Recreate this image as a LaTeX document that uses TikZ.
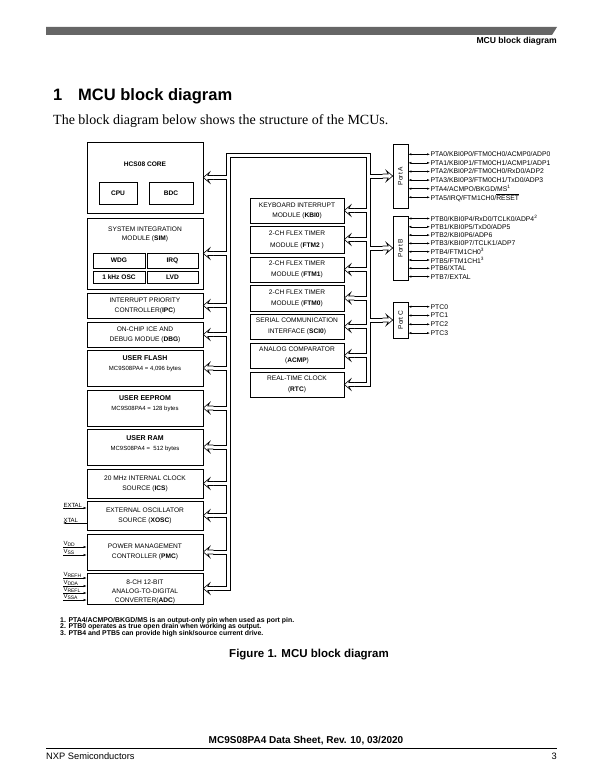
\documentclass[tikz,border=0pt]{standalone}
\usepackage{fontspec}
\setmainfont{Liberation Sans}
\newfontfamily\timesfont{Liberation Serif}
\usetikzlibrary{arrows.meta,calc}

\definecolor{barcol}{HTML}{666666}

\tikzset{
  blk/.style={draw, line width=0.6pt, align=center, inner sep=0pt, font=\fontsize{6.6}{10}\selectfont},
  txt/.style={align=center, inner sep=0pt, font=\fontsize{6.6}{10}\selectfont},
  pipe/.style={line width=0.6pt},
  pinlbl/.style={anchor=west, inner sep=0.5pt, font=\fontsize{6.8}{7}\selectfont},
  pinarr/.style={{Latex[length=3pt,width=2.2pt]}-{Latex[length=3pt,width=2.2pt]}, line width=0.5pt},
  sigarr/.style={-{Latex[length=3pt,width=2.2pt]}, line width=0.5pt},
  sig/.style={anchor=south west, inner sep=0.3pt, font=\fontsize{6}{7}\selectfont},
  pics/head/.style={code={
    \draw[fill=white, line width=0.6pt] (10,-2) -- (4.5,-2) -- (6.5,-5.5) -- (0,0) -- (6.5,5.5) -- (4.5,2) -- (10,2);
  }},
}

\begin{document}
\begin{tikzpicture}[x=1pt,y=-1pt]
\useasboundingbox (0,0) rectangle (612,778);

\fill[barcol] (46,27) -- (557,27) -- (552,35) -- (46,35) -- cycle;
\node[anchor=base east, inner sep=0pt, font=\fontsize{8.6}{10}\selectfont\bfseries] (hdr) at (557,43.5) {MCU block diagram};
\node[anchor=base west, inner sep=0pt, font=\fontsize{16.5}{18}\selectfont\bfseries] (secno) at (53,101) {1};
\node[anchor=base west, inner sep=0pt, font=\fontsize{16.5}{18}\selectfont\bfseries] (title) at (78,101) {MCU block diagram};
\node[anchor=base west, inner sep=0pt, font=\timesfont\fontsize{14}{16}\selectfont] (intro) at (53,125) {The block diagram below shows the structure of the MCUs.};

% left column
\node[blk, minimum width=116, minimum height=71] (hcs) at (145,177.5) {};
\node[txt, font=\fontsize{6.6}{9}\selectfont\bfseries] (hcst) at (145,164) {HCS08 CORE};
\node[blk, minimum width=38, minimum height=22, font=\fontsize{6.6}{9}\selectfont\bfseries] (cpu) at (118,193) {CPU};
\node[blk, minimum width=44, minimum height=22, font=\fontsize{6.6}{9}\selectfont\bfseries] (bdc) at (171,193) {BDC};

\node[blk, minimum width=116, minimum height=71] (sim) at (145,253.5) {};
\node[txt, font=\fontsize{6.6}{9}\selectfont] (simt) at (145,234.5) {SYSTEM INTEGRATION\\MODULE (\textbf{SIM})};
\node[blk, minimum width=52, minimum height=15, font=\fontsize{6.6}{9}\selectfont\bfseries] (wdg) at (119,260.5) {WDG};
\node[blk, minimum width=51, minimum height=15, font=\fontsize{6.6}{9}\selectfont\bfseries] (irq) at (172.5,260.5) {IRQ};
\node[blk, minimum width=52, minimum height=12, font=\fontsize{6.6}{9}\selectfont\bfseries] (osc) at (119,277) {1 kHz OSC};
\node[blk, minimum width=51, minimum height=12, font=\fontsize{6.6}{9}\selectfont\bfseries] (lvd) at (172.5,277) {LVD};

\node[blk, minimum width=116, minimum height=25] (ipc) at (145,305.5) {INTERRUPT PRIORITY\\CONTROLLER(\textbf{IPC})};
\node[blk, minimum width=116, minimum height=25] (dbg) at (145,334.5) {ON-CHIP ICE AND\\DEBUG MODUE (\textbf{DBG})};

\node[blk, minimum width=116, minimum height=36] (flash) at (145,368) {};
\node[txt] (flasht) at (145,364) {\fontsize{7}{10}\selectfont\textbf{USER FLASH}\\\fontsize{6}{7}\selectfont MC9S08PA4 = 4,096 bytes};
\node[blk, minimum width=116, minimum height=36] (eeprom) at (145,408) {};
\node[txt] (eepromt) at (145,403.5) {\fontsize{7}{10}\selectfont\textbf{USER EEPROM}\\\fontsize{6}{7}\selectfont MC9S08PA4 = 128 bytes};
\node[blk, minimum width=116, minimum height=36] (ram) at (145,447) {};
\node[txt] (ramt) at (145,444) {\fontsize{7}{10}\selectfont\textbf{USER RAM}\\\fontsize{6}{7}\selectfont MC9S08PA4 =\ \ 512 bytes};

\node[blk, minimum width=116, minimum height=29] (ics) at (145,483.5) {20 MHz INTERNAL CLOCK\\SOURCE (\textbf{ICS})};
\node[blk, minimum width=116, minimum height=29] (xosc) at (145,515.5) {EXTERNAL OSCILLATOR\\SOURCE (\textbf{XOSC})};
\node[blk, minimum width=116, minimum height=36] (pmc) at (145,552) {POWER MANAGEMENT\\CONTROLLER (\textbf{PMC})};
\node[blk, minimum width=116, minimum height=31] (adc) at (145,588.5) {};
\node[txt, font=\fontsize{6.6}{9}\selectfont] (adct) at (145,591.5) {8-CH 12-BIT\\ANALOG-TO-DIGITAL\\CONVERTER(\textbf{ADC})};

% peripherals
\node[blk, minimum width=94, minimum height=25] (kbi) at (297,210.5) {KEYBOARD INTERRUPT\\MODULE (\textbf{KBI0})};
\node[blk, minimum width=94, minimum height=27, font=\fontsize{6.6}{12}\selectfont] (ftm2) at (297,239.5) {2-CH FLEX TIMER\\MODULE (\textbf{FTM2} )};
\node[blk, minimum width=94, minimum height=25, font=\fontsize{6.6}{11}\selectfont] (ftm1) at (297,269.5) {2-CH FLEX TIMER\\MODULE (\textbf{FTM1})};
\node[blk, minimum width=94, minimum height=26, font=\fontsize{6.6}{11}\selectfont] (ftm0) at (297,298) {2-CH FLEX TIMER\\MODULE (\textbf{FTM0})};
\node[blk, minimum width=94, minimum height=25, font=\fontsize{6.6}{11}\selectfont] (sci) at (297,326.5) {SERIAL COMMUNICATION\\INTERFACE (\textbf{SCI0})};
\node[blk, minimum width=94, minimum height=25, font=\fontsize{6.6}{11}\selectfont] (acmp) at (297,355.5) {ANALOG COMPARATOR\\(\textbf{ACMP})};
\node[blk, minimum width=94, minimum height=25, font=\fontsize{6.6}{11}\selectfont] (rtc) at (297,384.5) {REAL-TIME CLOCK\\(\textbf{RTC})};

% ports
\node[blk, minimum width=15, minimum height=64] (porta) at (400.5,176) {};
\node[txt, rotate=90] (portat) at (porta.center) {Port A};
\node[blk, minimum width=15, minimum height=64] (portb) at (400.5,248) {};
\node[txt, rotate=90] (portbt) at (portb.center) {Port B};
\node[blk, minimum width=15, minimum height=36] (portc) at (400.5,320) {};
\node[txt, rotate=90] (portct) at (portc.center) {Port C};

% bus outlines
\coordinate (tlo) at (226,153);
\coordinate (tli) at (230,157);
\coordinate (tri) at (366,157);
\coordinate (tro) at (370,153);
\draw[pipe] ($(hcs.east)+(10,-2)$) -- ($(hcs.east -| tlo)+(0,-2)$) -- (tlo) -- (tro)
  -- ($(porta.west -| tro)+(0,-2)$) -- ($(porta.west)+(-10,-2)$);
\draw[pipe] ($(adc.east)+(10,2)$) -- ($(adc.east -| tli)+(0,2)$) -- (tli) -- (tri)
  -- ($(kbi.east -| tri)+(0,-2)$) -- ($(kbi.east)+(10,-2)$);
\foreach \a/\b in {hcs/sim, sim/ipc, ipc/dbg, dbg/flash, flash/eeprom, eeprom/ram, ram/ics, ics/xosc, xosc/pmc, pmc/adc}
  \draw[pipe] ($(\a.east)+(10,2)$) -- ($(\a.east -| tlo)+(0,2)$) -- ($(\b.east -| tlo)+(0,-2)$) -- ($(\b.east)+(10,-2)$);
\foreach \a/\b in {kbi/ftm2, ftm2/ftm1, ftm1/ftm0, ftm0/sci, sci/acmp, acmp/rtc}
  \draw[pipe] ($(\a.east)+(10,2)$) -- ($(\a.east -| tri)+(0,2)$) -- ($(\b.east -| tri)+(0,-2)$) -- ($(\b.east)+(10,-2)$);
\foreach \a/\b in {porta/portb, portb/portc}
  \draw[pipe] ($(\a.west)+(-10,2)$) -- ($(\a.west -| tro)+(0,2)$) -- ($(\b.west -| tro)+(0,-2)$) -- ($(\b.west)+(-10,-2)$);
\draw[pipe] ($(portc.west)+(-10,2)$) -- ($(portc.west -| tro)+(0,2)$) -- ($(rtc.east -| tro)+(0,2)$) -- ($(rtc.east)+(10,2)$);
\foreach \m in {hcs,sim,ipc,dbg,flash,eeprom,ram,ics,xosc,pmc,adc,kbi,ftm2,ftm1,ftm0,sci,acmp,rtc}
  \pic at (\m.east) {head};
\foreach \m in {porta,portb,portc}
  \pic[xscale=-1] at (\m.west) {head};

% pins
\foreach \t [count=\i from 0] in {PTA0/KBI0P0/FTM0CH0/ACMP0/ADP0, PTA1/KBI0P1/FTM0CH1/ACMP1/ADP1,
    PTA2/KBI0P2/FTM0CH0/RxD0/ADP2, PTA3/KBI0P3/FTM0CH1/TxD0/ADP3, PTA4/ACMPO/BKGD/MS\textsuperscript{1},
    PTA5/IRQ/FTM1CH0/\(\overline{\mbox{RESET}}\)} {
  \node[pinlbl] (pa\i) at (430,154.3+8.6*\i) {\t};
  \draw[pinarr] (porta.east |- pa\i.west) -- (pa\i.west);
}
\foreach \t [count=\i from 0] in {PTB0/KBI0P4/RxD0/TCLK0/ADP4\textsuperscript{2}, PTB1/KBI0P5/TxD0/ADP5,
    PTB2/KBI0P6/ADP6, PTB3/KBI0P7/TCLK1/ADP7, PTB4/FTM1CH0\textsuperscript{3}, PTB5/FTM1CH1\textsuperscript{3},
    PTB6/XTAL, PTB7/EXTAL} {
  \node[pinlbl] (pb\i) at (430,218.5+8.3*\i) {\t};
  \draw[pinarr] (portb.east |- pb\i.west) -- (pb\i.west);
}
\foreach \t [count=\i from 0] in {PTC0, PTC1, PTC2, PTC3} {
  \node[pinlbl] (pc\i) at (430,306.7+8.8*\i) {\t};
  \draw[pinarr] (portc.east |- pc\i.west) -- (pc\i.west);
}

% left signals
\node[sig] (extal) at (63,508) {EXTAL};
\draw[sigarr] (extal.south west) -- (extal.south west -| xosc.west);
\node[sig] (xtal) at (63,523) {XTAL};
\draw[sigarr] (xtal.south west -| xosc.west) -- (xtal.south west);
\node[sig] (vdd) at (63,547) {V\textsubscript{DD}};
\draw[sigarr] (vdd.south west) -- (vdd.south west -| pmc.west);
\node[sig] (vss) at (63,555) {V\textsubscript{SS}};
\draw[sigarr] (vss.south west) -- (vss.south west -| pmc.west);
\node[sig] (vrefh) at (63,578) {V\textsubscript{REFH}};
\draw[sigarr] (vrefh.south west) -- (vrefh.south west -| adc.west);
\node[sig] (vdda) at (63,586) {V\textsubscript{DDA}};
\draw[sigarr] (vdda.south west) -- (vdda.south west -| adc.west);
\node[sig] (vrefl) at (63,593) {V\textsubscript{REFL}};
\draw[sigarr] (vrefl.south west) -- (vrefl.south west -| adc.west);
\node[sig] (vssa) at (63,600) {V\textsubscript{SSA}};
\draw[sigarr] (vssa.south west) -- (vssa.south west -| adc.west);

% notes and footer
\node[anchor=base west, inner sep=0pt, font=\fontsize{6.9}{7}\selectfont\bfseries] (note1) at (60,622) {1. PTA4/ACMPO/BKGD/MS is an output-only pin when used as port pin.};
\node[anchor=base west, inner sep=0pt, font=\fontsize{6.9}{7}\selectfont\bfseries] (note2) at (60,628.5) {2. PTB0 operates as true open drain when working as output.};
\node[anchor=base west, inner sep=0pt, font=\fontsize{6.9}{7}\selectfont\bfseries] (note3) at (60,635) {3. PTB4 and PTB5 can provide high sink/source current drive.};
\node[anchor=base, inner sep=0pt, font=\fontsize{11.5}{13}\selectfont\bfseries] (caption) at (309,657) {Figure 1. MCU block diagram};
\node[anchor=base, inner sep=0pt, font=\fontsize{10}{12}\selectfont\bfseries] (ftr) at (306,743.5) {MC9S08PA4 Data Sheet, Rev. 10, 03/2020};
\draw[line width=0.8pt] (46,748) -- (557,748);
\node[anchor=base west, inner sep=0pt, font=\fontsize{9.3}{11}\selectfont] (nxp) at (46,759) {NXP Semiconductors};
\node[anchor=base east, inner sep=0pt, font=\fontsize{9.3}{11}\selectfont] (pgno) at (557,759) {3};
\end{tikzpicture}
\end{document}
